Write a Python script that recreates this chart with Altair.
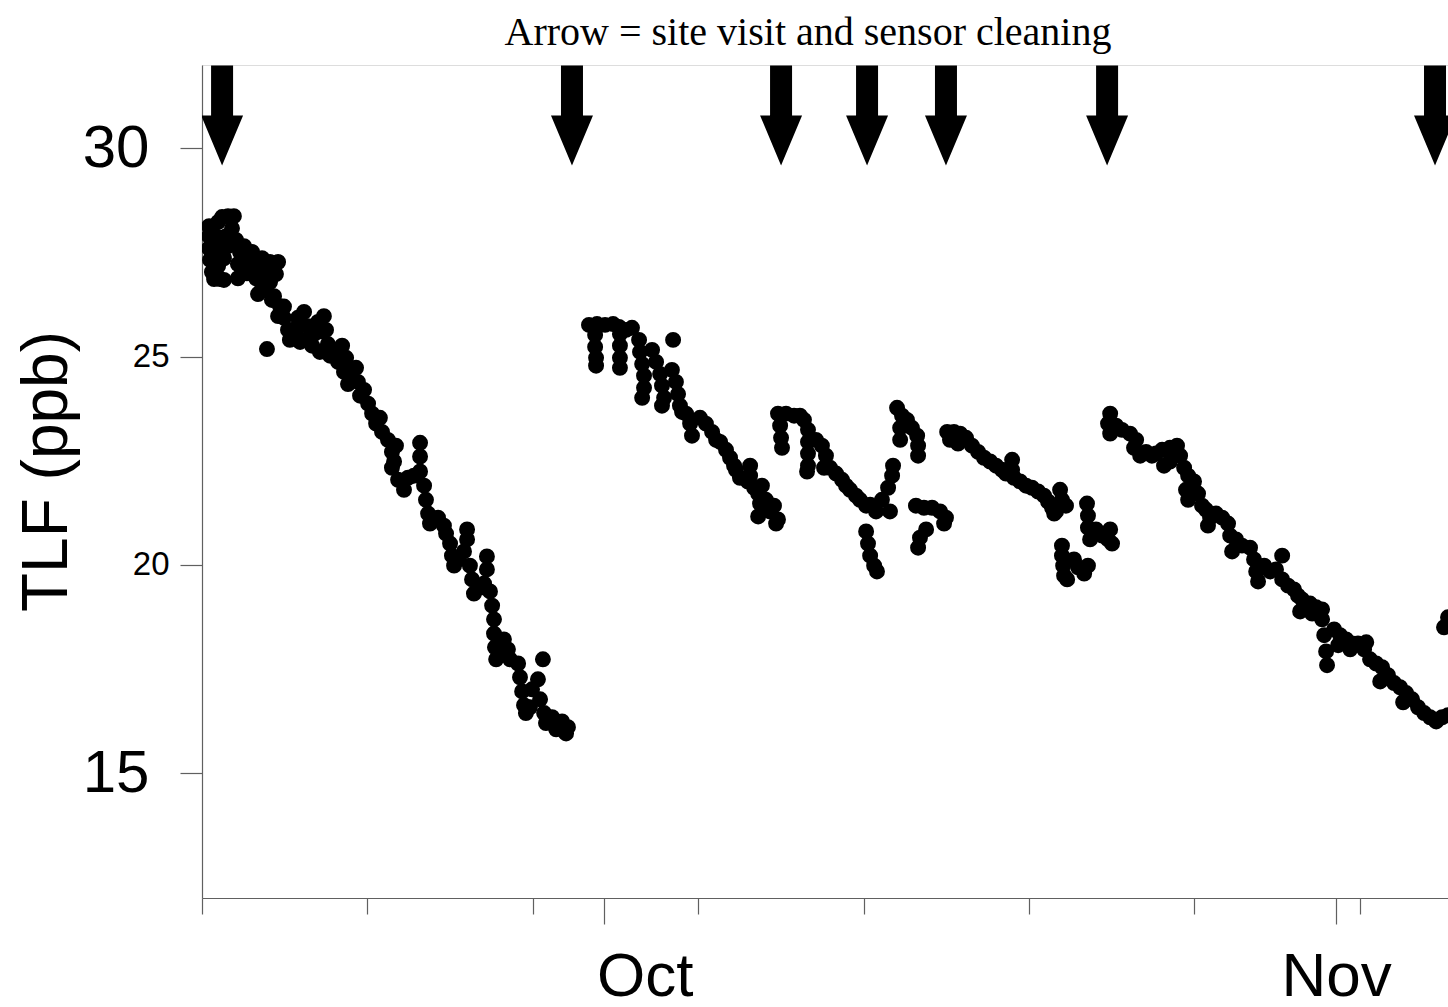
import altair as alt
import pandas as pd

BASE = "2012-09-14"

# ---- data: days since Sep 14 and TLF (ppb) ----
SEG1_DAYS = [0.30, 0.30, 0.30, 0.34, 0.42, 0.51, 0.68, 0.85, 1.10, 1.35, 1.27, 1.02, 0.76, 0.93, 0.68,
             1.44, 1.61, 1.52, 1.52, 1.78, 1.95, 2.12, 2.29, 2.54, 2.88, 3.22, 3.13, 2.79, 2.54, 2.37,
             2.75, 2.54, 2.88, 3.05, 3.30, 3.47, 3.64, 3.72, 4.06, 4.32, 4.49, 4.40, 4.74, 4.91, 5.16,
             5.25, 5.33, 5.42, 5.67, 5.93, 6.10, 6.26, 6.18, 6.52, 6.60, 6.69, 6.86, 7.03, 7.20, 7.37,
             7.53, 7.62, 7.87, 8.04, 8.21, 8.04, 8.30, 8.55, 8.72, 9.23, 9.23, 9.23, 9.40, 9.48, 9.57,
             9.65, 9.99, 10.24, 10.33, 10.50, 10.58, 10.67, 11.22, 11.22, 11.09, 11.34, 11.43, 11.51,
             12.06, 12.06, 11.94, 12.19, 12.28, 12.36, 12.36, 12.40, 12.45, 12.78, 12.95, 13.04, 13.38,
             13.46, 13.55, 13.63, 13.71, 13.88, 14.43, 13.97, 14.22, 14.31, 14.48, 14.56, 14.82, 14.99,
             15.24, 15.41, 15.49,
             3.81, 8.13, 8.97, 10.84, 11.77, 12.61, 0.55, 0.42, 1.90, 3.47, 4.06, 5.08,
             1.10, 0.59, 0.76, 0.93, 1.78, 2.03, 2.29, 2.62, 2.96, 3.22, 3.98, 4.15, 4.66, 4.99,
             5.76, 6.01]
SEG1_TLF = [28.13, 27.89, 27.60, 27.32, 27.03, 26.86, 28.23, 28.35, 28.37, 28.37, 28.08, 27.89, 27.60, 27.36, 27.17,
            27.80, 27.51, 27.22, 26.88, 27.65, 27.41, 27.51, 27.27, 27.36, 27.27, 27.27, 26.98, 26.93, 26.74, 26.50,
            25.18, 27.03, 26.79, 26.45, 26.21, 25.93, 25.64, 25.40, 25.93, 26.07, 25.73, 25.40, 25.54, 25.83, 25.97,
            25.64, 25.30, 25.02, 25.16, 25.26, 24.97, 24.63, 24.34, 24.73, 24.39, 24.06, 24.20, 23.87, 23.63, 23.39,
            23.53, 23.19, 23.00, 22.71, 22.86, 22.33, 22.04, 21.80, 22.09, 22.93, 22.60, 22.24, 21.90, 21.56, 21.23,
            20.99, 21.13, 20.94, 20.75, 20.51, 20.22, 19.98, 20.85, 20.61, 20.32, 19.98, 19.65, 19.31,
            20.20, 19.89, 19.55, 19.36, 19.02, 18.69, 18.35, 18.02, 17.73, 18.21, 17.97, 17.73, 17.63,
            17.30, 16.96, 16.63, 16.44, 16.58, 17.73, 17.01, 17.25, 16.77, 16.44, 16.20, 16.34, 16.05,
            16.24, 15.95, 16.10,
            25.64, 22.48, 22.14, 20.13, 19.45, 17.97, 27.75, 27.45, 27.00, 26.20, 25.70, 25.60,
            27.65, 27.89, 26.86, 26.84, 27.27, 27.08, 26.88, 26.60, 26.36, 25.97, 25.64, 25.35, 25.26, 25.11,
            24.87, 24.63]

SEG2_DAYS = [16.38, 16.72, 17.06, 17.40, 17.65, 16.64, 16.64, 16.68, 16.68, 17.69, 17.69, 17.69, 17.69,
             17.95, 18.20, 18.50, 18.54, 18.63, 18.71, 18.71, 18.63, 19.94, 19.05, 19.22, 19.39, 19.47,
             19.56, 19.47, 19.89, 20.06, 20.15, 20.23, 20.32, 20.49, 20.66, 20.74, 21.08, 21.33, 21.59,
             21.76, 21.93, 22.18, 22.35, 22.52, 22.60, 22.77, 23.20, 23.20, 23.11, 23.37, 23.54, 23.70,
             23.62, 23.87, 24.04, 24.21, 24.38, 23.54, 24.30]
SEG2_TLF = [25.76, 25.78, 25.76, 25.78, 25.71, 25.52, 25.23, 24.97, 24.78, 25.54, 25.26, 24.97, 24.73,
            25.64, 25.69, 25.40, 25.11, 24.82, 24.54, 24.25, 24.01, 25.40, 25.16, 24.87, 24.58, 24.30,
            24.01, 23.82, 24.68, 24.39, 24.10, 23.82, 23.67, 23.63, 23.39, 23.10, 23.53, 23.39, 23.19,
            23.00, 22.95, 22.76, 22.57, 22.38, 22.28, 22.09, 22.38, 22.14, 22.00, 21.85, 21.71, 21.90,
            21.47, 21.56, 21.28, 21.42, 21.09, 21.16, 20.99]

SEG3_DAYS = [24.38, 24.72, 25.06, 25.31, 25.48, 24.47, 24.51, 24.55, 25.65, 25.65, 25.65, 25.65, 25.61,
             25.99, 26.24, 26.41, 26.33, 26.58, 26.84, 27.09, 27.26, 27.43, 27.68, 27.85, 28.11, 28.28,
             28.53, 28.78, 29.04, 29.21, 29.25, 29.12, 28.11, 28.19, 28.28, 28.45, 28.57, 29.42, 29.63,
             29.84, 30.05, 30.27, 30.31, 30.31, 29.55, 29.55, 30.22, 30.56, 30.90, 31.24, 31.49, 31.41,
             30.65, 30.39, 30.31]
SEG3_TLF = [23.63, 23.63, 23.58, 23.58, 23.48, 23.34, 23.05, 22.81, 23.24, 22.95, 22.67, 22.38, 22.24,
            23.00, 22.86, 22.62, 22.33, 22.33, 22.19, 22.04, 21.90, 21.80, 21.66, 21.56, 21.42, 21.44,
            21.28, 21.56, 21.85, 22.14, 22.38, 21.28, 20.80, 20.51, 20.22, 19.98, 19.84, 23.77, 23.58,
            23.48, 23.29, 23.10, 22.86, 22.62, 23.29, 23.00, 21.42, 21.37, 21.37, 21.28, 21.13, 20.99,
            20.85, 20.65, 20.41]

SEG4_DAYS = [31.54, 31.83, 32.09, 32.34, 32.59, 31.66, 32.00, 32.85, 33.10, 33.36, 33.61, 33.86, 34.29,
             34.29, 34.03, 34.37, 34.63, 34.88, 35.13, 35.39, 35.64, 35.81, 35.98, 36.15, 36.32, 36.40,
             36.57, 36.07, 36.40, 36.40, 36.45, 36.49, 36.62, 36.91, 37.08, 37.34, 37.50, 37.46, 37.50,
             37.50, 37.59, 37.84, 38.10, 38.35, 38.52, 38.44]
SEG4_TLF = [23.19, 23.19, 23.15, 23.05, 22.86, 23.00, 22.91, 22.71, 22.57, 22.48, 22.38, 22.28, 22.52,
            22.28, 22.19, 22.09, 22.00, 21.90, 21.85, 21.76, 21.66, 21.52, 21.37, 21.28, 21.80, 21.56,
            21.42, 21.23, 20.46, 20.22, 19.98, 19.74, 19.65, 20.13, 19.94, 19.79, 19.98, 21.47, 21.18,
            20.89, 20.61, 20.85, 20.70, 20.61, 20.51, 20.85]

SEG5_DAYS = [38.44, 38.35, 38.44, 38.69, 38.94, 39.28, 39.54, 39.45, 39.71, 39.96, 40.21, 40.38, 40.64,
             40.97, 41.27, 41.40, 41.57, 41.74, 40.97, 40.72, 41.65, 41.74, 41.99, 42.16, 42.33, 42.50,
             42.67, 42.58, 42.92, 43.18, 43.43, 43.52, 43.77, 44.02, 44.36, 44.53, 44.62, 44.70, 44.96,
             45.21, 45.46, 45.72, 45.72, 45.97, 46.22, 46.39, 46.56, 46.90, 47.16, 47.41, 47.41, 47.50,
             47.58, 47.62, 47.92, 48.17, 48.43, 48.68, 48.93, 49.19, 49.44, 49.70, 49.95, 50.20, 50.46,
             50.71, 50.97, 51.22, 51.47, 51.73, 51.98, 52.24, 52.49, 52.74,
             43.60, 46.48, 46.99, 48.60, 48.09, 49.87, 50.84, 49.28]
SEG5_TLF = [23.63, 23.39, 23.15, 23.34, 23.24, 23.15, 23.00, 22.81, 22.62, 22.71, 22.62, 22.67, 22.76,
            22.81, 22.86, 22.62, 22.33, 22.14, 22.48, 22.38, 21.80, 21.56, 22.00, 21.71, 21.42, 21.32,
            21.13, 20.94, 21.23, 21.13, 20.99, 20.70, 20.61, 20.46, 20.41, 20.13, 19.84, 19.60, 19.98,
            19.84, 19.89, 20.22, 19.65, 19.50, 19.41, 19.26, 19.17, 19.07, 18.98, 18.93, 18.69, 18.31,
            17.92, 17.59, 18.45, 18.31, 18.21, 18.11, 18.11, 17.97, 17.73, 17.63, 17.54, 17.35, 17.16,
            17.06, 16.92, 16.77, 16.58, 16.44, 16.34, 16.24, 16.34, 16.39,
            20.32, 18.88, 18.83, 17.97, 18.07, 17.20, 16.70, 18.14]

SEG6_DAYS = [52.57, 52.74]
SEG6_TLF = [18.50, 18.74]

# site visits (arrows), days since Sep 14; arrows drawn in the top band of the plot
ARROW_DAYS = [0.85, 15.66, 24.51, 28.15, 31.49, 38.31, 52.19]
ARROW_TLF = 30.79

X_TICKS = ["2012-09-14", "2012-09-21", "2012-09-28", "2012-10-01", "2012-10-05",
           "2012-10-12", "2012-10-19", "2012-10-26", "2012-11-01", "2012-11-02"]
Y_TICKS = [15, 20, 25, 30]
Y_DOMAIN = [12, 32]
X_END_DAYS = 52.74

# ---- tables ----
days = SEG1_DAYS + SEG2_DAYS + SEG3_DAYS + SEG4_DAYS + SEG5_DAYS + SEG6_DAYS
tlf = SEG1_TLF + SEG2_TLF + SEG3_TLF + SEG4_TLF + SEG5_TLF + SEG6_TLF
base = pd.Timestamp(BASE)
df = pd.DataFrame({"day": days, "tlf": tlf})
df["time"] = (base + pd.to_timedelta(df["day"], unit="D")).dt.strftime("%Y-%m-%dT%H:%M:%S")

arr = pd.DataFrame({"day": ARROW_DAYS, "tlf": [ARROW_TLF] * len(ARROW_DAYS)})
arr["time"] = (base + pd.to_timedelta(arr["day"], unit="D")).dt.strftime("%Y-%m-%dT%H:%M:%S")

def dt(s):
    t = pd.Timestamp(s)
    return alt.DateTime(year=t.year, month=t.month, date=t.day, hours=t.hour, minutes=t.minute)

x_end = base + pd.Timedelta(days=X_END_DAYS)
x_scale = alt.Scale(domain=[dt(BASE), dt(x_end)], nice=False)
y_scale = alt.Scale(domain=Y_DOMAIN, nice=False, zero=False)

AXIS_GRAY = "#606060"
is_month = "date(datum.value) == 1"
is_big = "datum.value == 30 || datum.value == 15"

x_axis = alt.Axis(
    values=[dt(s) for s in X_TICKS],
    labelExpr="date(datum.value) == 1 ? timeFormat(datum.value, '%b') : ''",
    tickSize={"condition": {"test": is_month, "value": 26}, "value": 16},
    labelOffset={"condition": {"test": "month(datum.value) == 9", "value": 41}, "value": 0},
    labelFont="Liberation Sans", labelFontSize=62, labelColor="black",
    labelBaseline="alphabetic", labelPadding=71, labelOverlap=False, labelFlush=False,
    domainColor=AXIS_GRAY, tickColor=AXIS_GRAY, tickWidth=1.2, domainWidth=1.2,
    grid=False, title=None,
)
y_axis = alt.Axis(
    values=Y_TICKS, grid=False, tickSize=22,
    labelFont="Liberation Sans", labelColor="black",
    labelFontSize={"condition": {"test": is_big, "value": 60}, "value": 33},
    labelPadding={"condition": {"test": is_big, "value": 31}, "value": 11},
    domainColor=AXIS_GRAY, tickColor=AXIS_GRAY, tickWidth=1.2, domainWidth=1.2,
    title="TLF (ppb)", titleFont="Liberation Sans", titleFontSize=64, titleFontWeight="normal",
    titleColor="black", titleAngle=-90, titleAlign="center", titleBaseline="alphabetic",
    titleX=-136, titleY=406,
)

points = alt.Chart(df).mark_circle(color="black", opacity=1, size=254, clip=True).encode(
    x=alt.X("time:T", scale=x_scale, axis=x_axis),
    y=alt.Y("tlf:Q", scale=y_scale, axis=y_axis),
)

ARROW_PATH = "M -0.22 -1 L 0.22 -1 L 0.22 0 L 0.42 0 L 0 1 L -0.42 0 L -0.22 0 Z"
arrows = alt.Chart(arr).mark_point(
    shape=ARROW_PATH, filled=True, color="black", opacity=1, size=10000, strokeWidth=0, clip=True
).encode(
    x=alt.X("time:T", scale=x_scale),
    y=alt.Y("tlf:Q", scale=y_scale),
)

chart = alt.layer(points, arrows).properties(
    width=1246, height=833,
    autosize=alt.AutoSizeParams(type="none"),
    padding={"left": 202, "top": 65, "right": 0, "bottom": 109},
    title=alt.TitleParams(
        text="Arrow = site visit and sensor cleaning",
        font="Liberation Serif", fontSize=40, fontWeight="normal", color="black",
        anchor="middle", dx=-17, dy=45, offset=25, baseline="alphabetic", frame="group",
    ),
).configure_view(stroke=AXIS_GRAY, strokeWidth=1.2).configure(background="white")

chart.save("out.html", embed_options={"renderer": "svg", "actions": False})
